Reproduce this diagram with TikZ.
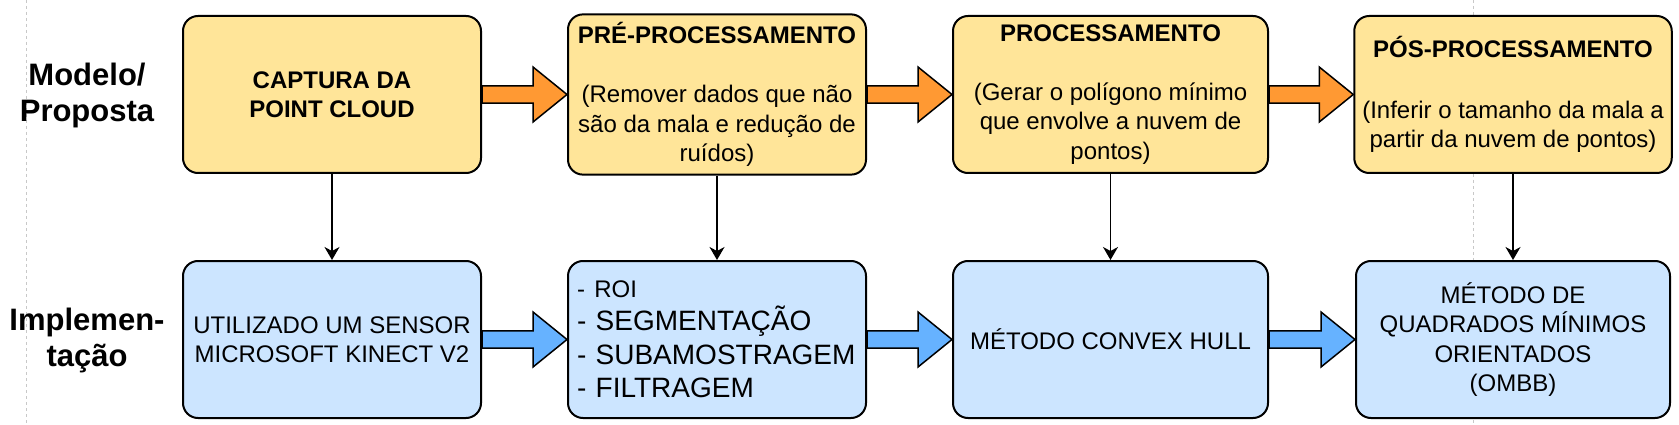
\documentclass[tikz,border=0pt]{standalone}
\usepackage{fontspec}
\setmainfont{Liberation Sans}
\usepackage{tikz}
\usetikzlibrary{arrows.meta,calc}
\definecolor{amarelo}{HTML}{FFE599}
\definecolor{azul}{HTML}{CCE5FF}
\definecolor{laranja}{HTML}{FF9933}
\definecolor{azulseta}{HTML}{66B2FF}
\definecolor{guia}{HTML}{C8C8C8}
\tikzstyle{etapa}=[rectangle, rounded corners=15pt, draw=black, line width=2pt, minimum width=298pt, minimum height=157pt, inner sep=8pt, align=center, font=\fontsize{24}{29.5}\selectfont]
\tikzstyle{modelo}=[etapa, fill=amarelo]
\tikzstyle{implem}=[etapa, fill=azul]
\tikzstyle{rotulo}=[align=center, font=\bfseries\fontsize{31}{36}\selectfont]
\tikzstyle{setabloco}=[draw=black, line width=1.5pt, line join=miter]
\tikzstyle{ligacao}=[draw=black, line width=1.3pt, -{Stealth[length=13pt,width=15pt,inset=4pt]}]
\newcommand{\seta}[3]{\path[setabloco, fill=#3]
	($(#1.east)+(0,-8.7)$) -- ($(#2.west)+(-34,-8.7)$) -- ($(#2.west)+(-34,-27.5)$)
	-- (#2.west) -- ($(#2.west)+(-34,27.5)$) -- ($(#2.west)+(-34,8.7)$)
	-- ($(#1.east)+(0,8.7)$) -- cycle;}

\begin{document}
\begin{tikzpicture}[x=1pt, y=-1pt]
		\useasboundingbox (0,0) rectangle (1679,425);
		\path[draw=guia, line width=1pt, dash pattern=on 3pt off 3pt]
			(26.5,0) -- (26.5,425)
			(1473,0) -- (1473,425);
		\node[rotulo](proposta) at (87,95) {Modelo/\\Proposta};
		\node[rotulo](implementacao) at (87,340) {Implemen-\\tação};
		\node[modelo](captura) at (332,94.5) {\textbf{CAPTURA DA}\\\textbf{POINT CLOUD}};
		\node[modelo](pre) at (717,94.5) {\textbf{PRÉ-PROCESSAMENTO}\\[29.5pt](Remover dados que não\\são da mala e redução de\\ruídos)};
		\node[modelo, minimum width=315pt](proc) at (1110.5,94.5) {\textbf{PROCESSAMENTO}\\[29.5pt](Gerar o polígono mínimo\\que envolve a nuvem de\\pontos)};
		\node[modelo, minimum width=314pt](pos) at (1513,94.5) {\textbf{PÓS-PROCESSAMENTO}\\[31pt](Inferir o tamanho da mala a\\partir da nuvem de pontos)};
		\node[implem](sensor) at (332,339.5) {UTILIZADO UM SENSOR\\MICROSOFT KINECT V2};
		\node[implem, text width=280pt, inner sep=9pt, align=left, font=\fontsize{28}{33.5}\selectfont](filtros) at (717,339.5) {{\fontsize{24}{33.5}\selectfont - ROI}\\- SEGMENTAÇÃO\\- SUBAMOSTRAGEM\\- FILTRAGEM};
		\node[implem, minimum width=315pt](convex) at (1110.5,339.5) {MÉTODO CONVEX HULL};
		\node[implem, minimum width=314pt](ombb) at (1513,339.5) {MÉTODO DE\\QUADRADOS MÍNIMOS\\ORIENTADOS\\(OMBB)};
		\seta{captura}{pre}{laranja}
		\seta{pre}{proc}{laranja}
		\seta{proc}{pos}{laranja}
		\seta{sensor}{filtros}{azulseta}
		\seta{filtros}{convex}{azulseta}
		\seta{convex}{ombb}{azulseta}
		\path[ligacao]
			(captura) edge (sensor)
			(pre) edge (filtros)
			(proc) edge (convex)
			(pos) edge (ombb);
	\end{tikzpicture}
\end{document}
